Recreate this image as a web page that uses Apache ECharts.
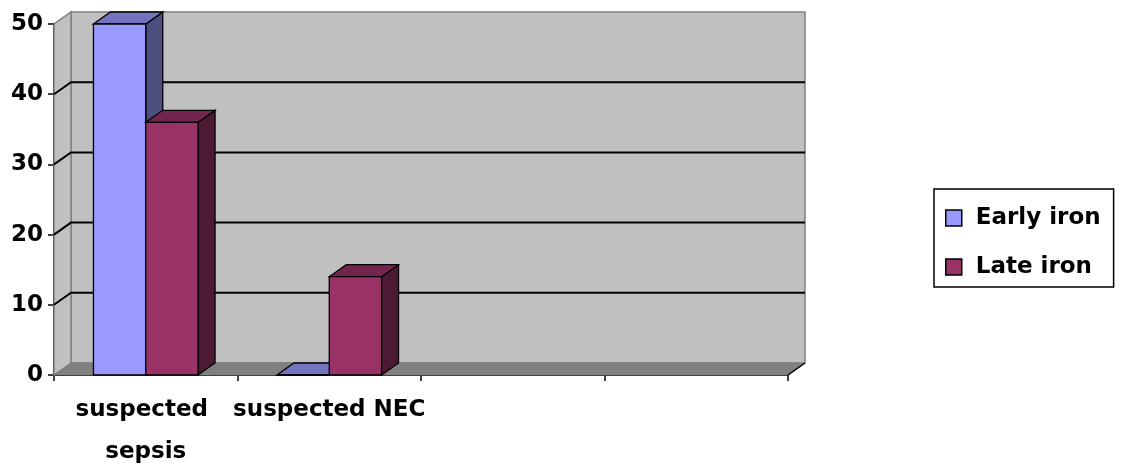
<!DOCTYPE html>
<html>
<head>
<meta charset="utf-8">
<script src="https://cdn.jsdelivr.net/npm/echarts@6/dist/echarts.min.js"></script>
<style>
  html, body { margin: 0; padding: 0; background: #fff; }
  #chart { width: 1121px; height: 468px; }
</style>
</head>
<body>
<div id="chart"></div>
<script>
// data
const categories = ['suspected sepsis', 'suspected NEC', '', ''];
const earlyIron = [50, 0, null, null];
const lateIron = [36, 14, null, null];
const yTicks = [0, 10, 20, 30, 40, 50];

// 3d depth offset of the excel style chart
const DX = 17;
const DY = 12;
const FONT = 'DejaVu Sans';

const faces = {
  early: { front: '#9999FF', top: '#7373BF', side: '#4D4D80' },
  late: { front: '#993366', top: '#73264D', side: '#4D1A33' },
};

function drawChamber(params, api) {
  const cs = params.coordSys;
  const v = api.value(1);
  const y = api.coord([0, v])[1];
  const xl = cs.x;
  const xr = cs.x + cs.width;
  const yb = cs.y + cs.height;
  const kids = [];
  if (params.dataIndex === 0) {
    // back wall
    kids.push({
      type: 'rect',
      shape: { x: xl + DX, y: cs.y - DY, width: cs.width, height: cs.height },
      style: { fill: '#C0C0C0', stroke: '#808080', lineWidth: 1.5 },
    });
    // left wall
    kids.push({
      type: 'polygon',
      shape: { points: [[xl, yb], [xl, cs.y], [xl + DX, cs.y - DY], [xl + DX, yb - DY]] },
      style: { fill: '#C0C0C0', stroke: '#808080', lineWidth: 1.5 },
    });
    // floor
    kids.push({
      type: 'polygon',
      shape: { points: [[xl, yb], [xl + DX, yb - DY], [xr + DX, yb - DY], [xr, yb]] },
      style: { fill: '#808080', stroke: '#808080', lineWidth: 1 },
    });
    kids.push({
      type: 'line',
      shape: { x1: xr, y1: yb, x2: xr + DX, y2: yb - DY },
      style: { stroke: '#000', lineWidth: 1.5 },
    });
  } else if (v < yTicks[yTicks.length - 1]) {
    kids.push({
      type: 'polyline',
      shape: { points: [[xl, y], [xl + DX, y - DY], [xr + DX, y - DY]] },
      style: { stroke: '#000', lineWidth: 2, fill: null },
    });
  }
  return { type: 'group', children: kids };
}

function barRenderer(slot, col) {
  return function (params, api) {
    const v = api.value(1);
    if (v == null || isNaN(v)) return;
    const band = api.size([1, 0])[0];
    const w = band * 0.285;
    const base = api.coord([api.value(0), 0]);
    const top = api.coord([api.value(0), v]);
    const x0 = base[0] - w + slot * w;
    const x1 = x0 + w;
    const yb = base[1];
    const yt = top[1];
    const edge = { stroke: '#000', lineWidth: 1.3 };
    return {
      type: 'group',
      children: [
        {
          type: 'polygon',
          shape: { points: [[x1, yb], [x1 + DX, yb - DY], [x1 + DX, yt - DY], [x1, yt]] },
          style: Object.assign({ fill: col.side }, edge),
        },
        {
          type: 'polygon',
          shape: { points: [[x0, yt], [x0 + DX, yt - DY], [x1 + DX, yt - DY], [x1, yt]] },
          style: Object.assign({ fill: col.top }, edge),
        },
        {
          type: 'rect',
          shape: { x: x0, y: yt, width: w, height: yb - yt },
          style: Object.assign({ fill: col.front }, edge),
        },
      ],
    };
  };
}

const chart = echarts.init(document.getElementById('chart'));

const option = {
  backgroundColor: '#fff',
  animation: false,
  grid: {
    left: 54,
    right: 333,
    top: 24,
    bottom: 93,
    outerBoundsMode: 'none',
  },
  legend: {
    orient: 'vertical',
    left: 934,
    top: 189,
    padding: [16, 13, 7, 11],
    backgroundColor: '#fff',
    borderColor: '#000',
    borderWidth: 1.5,
    itemGap: 23,
    itemWidth: 16,
    itemHeight: 16,
    icon: 'rect',
    textStyle: {
      fontFamily: FONT,
      fontWeight: 'bold',
      fontSize: 23,
      color: '#000',
      lineHeight: 26,
      padding: [0, 0, 0, 9],
    },
    data: [
      { name: 'Early iron', itemStyle: { color: faces.early.front, borderColor: '#000', borderWidth: 1.5 } },
      { name: 'Late iron', itemStyle: { color: faces.late.front, borderColor: '#000', borderWidth: 1.5 } },
    ],
  },
  xAxis: {
    type: 'category',
    data: categories,
    axisLine: { lineStyle: { color: '#000', width: 2 } },
    axisTick: { show: true, length: 6, lineStyle: { color: '#000', width: 1.5 } },
    axisLabel: {
      interval: 0,
      color: '#000',
      fontFamily: FONT,
      fontWeight: 'bold',
      fontSize: 23,
      lineHeight: 42,
      margin: 14,
      width: 210,
      overflow: 'break',
    },
    splitLine: { show: false },
  },
  yAxis: {
    type: 'value',
    min: 0,
    max: 50,
    interval: 10,
    axisLine: { show: true, lineStyle: { color: '#000', width: 2 } },
    axisTick: { show: true, length: 6, lineStyle: { color: '#000', width: 1.5 } },
    axisLabel: {
      color: '#000',
      fontFamily: FONT,
      fontWeight: 'bold',
      fontSize: 23,
      margin: 11,
    },
    splitLine: { show: false },
  },
  series: [
    {
      name: 'chamber',
      type: 'custom',
      z: 1,
      silent: true,
      renderItem: drawChamber,
      encode: { x: 0, y: 1 },
      data: yTicks.map((v) => [0, v]),
    },
    {
      name: 'Early iron',
      type: 'custom',
      z: 3,
      itemStyle: { color: faces.early.front },
      renderItem: barRenderer(0, faces.early),
      encode: { x: 0, y: 1 },
      data: earlyIron.map((v, i) => [i, v]),
    },
    {
      name: 'Late iron',
      type: 'custom',
      z: 4,
      itemStyle: { color: faces.late.front },
      renderItem: barRenderer(1, faces.late),
      encode: { x: 0, y: 1 },
      data: lateIron.map((v, i) => [i, v]),
    },
  ],
};

chart.setOption(option);
window.addEventListener('resize', () => { chart.resize(); });
</script>
</body>
</html>
